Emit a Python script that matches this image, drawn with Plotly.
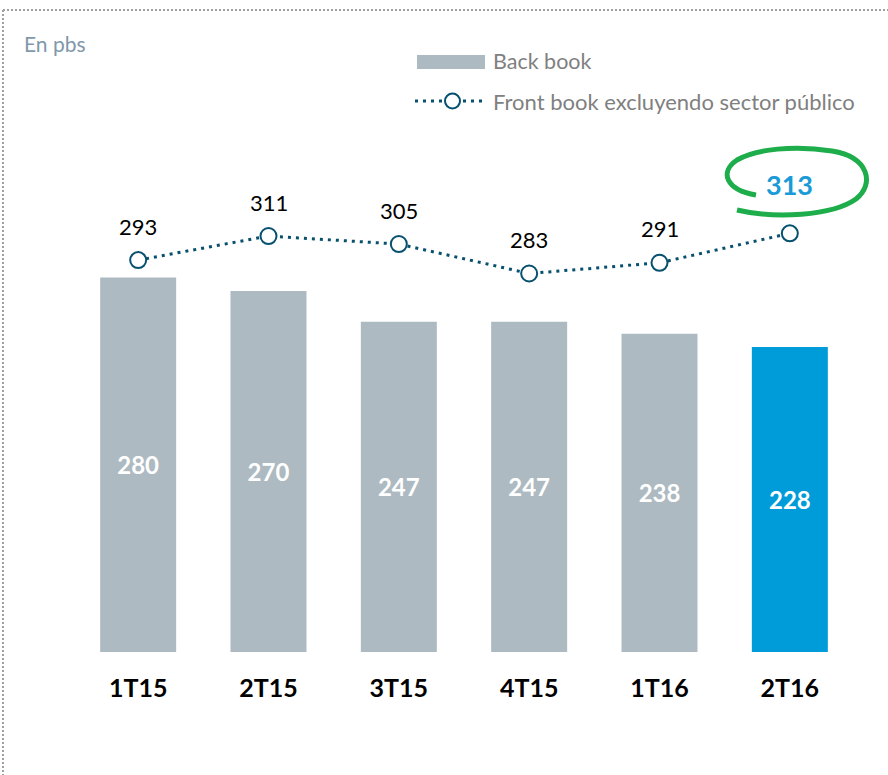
import plotly.graph_objects as go

categories = ["1T15", "2T15", "3T15", "4T15", "1T16", "2T16"]
back_book = [280, 270, 247, 247, 238, 228]
front_book = [293, 311, 305, 283, 291, 313]
bar_colors = ["#ADBAC1"] * 5 + ["#009BD9"]

W, H = 888, 775
L, R, T, B = 73, 33, 117, 123
PW, PH = W - L - R, H - T - B
FONT = "Lato"


def px(x):
    return (x - L) / PW


def py(y):
    return (H - B - y) / PH


fig = go.Figure()
fig.add_trace(go.Bar(
    x=categories, y=back_book,
    marker=dict(color=bar_colors, line=dict(width=0)),
    text=[str(v) for v in back_book],
    textposition="inside", insidetextanchor="middle", textangle=0,
    textfont=dict(family=FONT, size=24, color="white", weight="bold"),
    hoverinfo="skip", showlegend=False,
))
fig.add_trace(go.Scatter(
    x=categories, y=front_book, mode="lines+markers",
    line=dict(color="#07506E", width=3, dash="3px,5px"),
    marker=dict(size=16, color="white", line=dict(color="#07506E", width=2)),
    hoverinfo="skip", showlegend=False,
))

annotations = []
for i, (c, v) in enumerate(zip(categories, front_book)):
    last = i == len(categories) - 1
    annotations.append(dict(
        x=c, y=v, xref="x", yref="y", text=str(v), showarrow=False,
        yshift=49 if last else 34, xanchor="center", yanchor="middle",
        font=dict(family=FONT, size=27 if last else 22,
                  color="#1A9AD6" if last else "black",
                  weight="bold" if last else "normal"),
    ))

annotations += [
    dict(x=px(22), y=py(44), xref="paper", yref="paper", text="En pbs",
         showarrow=False, xanchor="left", yanchor="middle",
         font=dict(family=FONT, size=21, color="#7F98AB")),
    dict(x=px(491), y=py(61), xref="paper", yref="paper", text="Back book",
         showarrow=False, xanchor="left", yanchor="middle",
         font=dict(family=FONT, size=21.5, color="#808080")),
    dict(x=px(491), y=py(101), xref="paper", yref="paper",
         text="Front book excluyendo sector público",
         showarrow=False, xanchor="left", yanchor="middle",
         font=dict(family=FONT, size=22, color="#808080")),
]

ellipse_pts = "M {},{} C {},{} {},{} {},{} C {},{} {},{} {},{} C {},{} {},{} {},{} C {},{} {},{} {},{}".format(
    px(737), py(210), px(775), py(219), px(832), py(216), px(856), py(199),
    px(875), py(184), px(869), py(157), px(832), py(151),
    px(795), py(145), px(755), py(149), px(737), py(160),
    px(719), py(172), px(726), py(190), px(756), py(195),
)

shapes = [
    dict(type="line", xref="paper", yref="paper", x0=px(3), x1=px(888), y0=py(10), y1=py(10),
         line=dict(color="#A0A0A0", width=2, dash="2px,2px")),
    dict(type="line", xref="paper", yref="paper", x0=px(3), x1=px(3), y0=py(10), y1=py(775),
         line=dict(color="#A0A0A0", width=2, dash="2px,2px")),
    dict(type="rect", xref="paper", yref="paper", x0=px(417), x1=px(485), y0=py(69), y1=py(55),
         fillcolor="#ADBAC1", line=dict(width=0)),
    dict(type="line", xref="paper", yref="paper", x0=px(415), x1=px(486), y0=py(101), y1=py(101),
         line=dict(color="#07506E", width=3, dash="3px,5px")),
    dict(type="circle", xref="paper", yref="paper", x0=px(445), x1=px(460), y0=py(93.5), y1=py(108.5),
         fillcolor="white", line=dict(color="#07506E", width=2)),
    dict(type="path", xref="paper", yref="paper", path=ellipse_pts,
         line=dict(color="#1EAD4B", width=5)),
]

fig.update_layout(
    width=W, height=H,
    margin=dict(l=L, r=R, t=T, b=B, pad=0),
    paper_bgcolor="white", plot_bgcolor="white",
    bargap=0.417,
    showlegend=False,
    annotations=annotations,
    shapes=shapes,
    xaxis=dict(type="category", range=[-0.5, 5.5], showgrid=False, zeroline=False,
               showline=False, ticks="outside", ticklen=14, tickcolor="rgba(0,0,0,0)",
               tickfont=dict(family=FONT, size=25, color="black", weight="bold"),
               fixedrange=True),
    yaxis=dict(range=[0, 400], visible=False, showgrid=False, zeroline=False, fixedrange=True),
    font=dict(family=FONT),
)

fig.write_html(
    "out.html",
    config={"displayModeBar": False},
    post_script="document.body.style.margin='0px';document.body.style.overflow='hidden';",
)
